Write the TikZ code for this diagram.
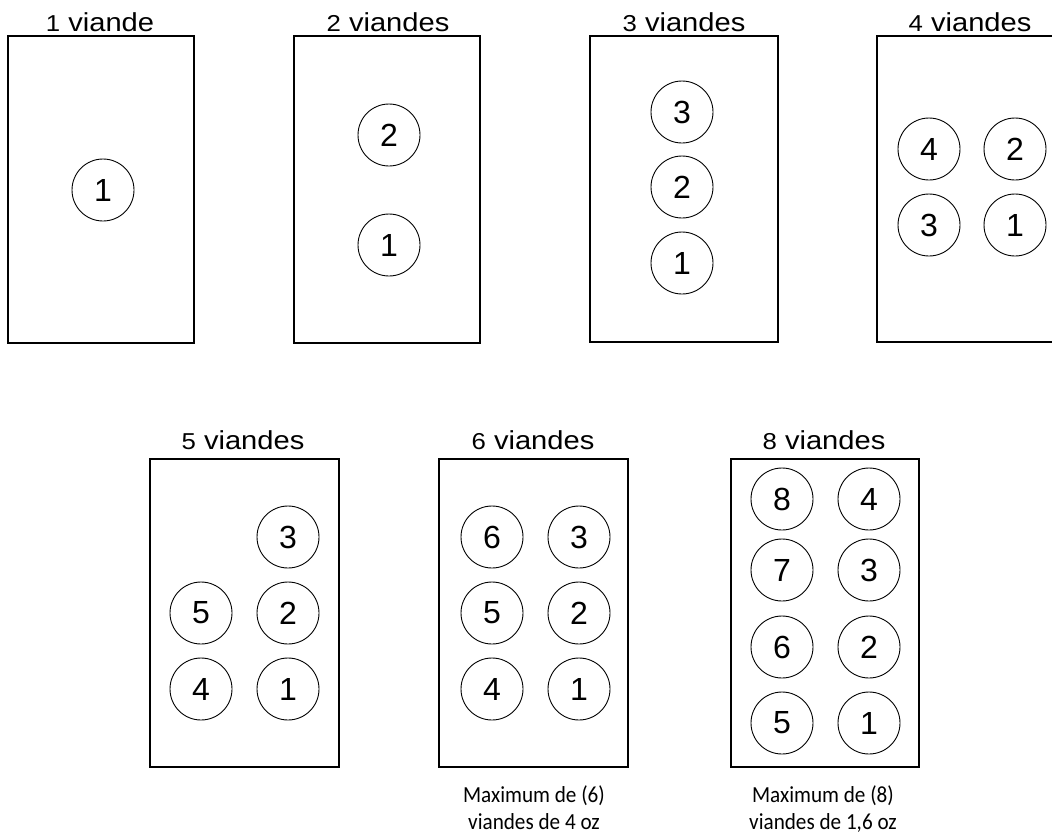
\documentclass[tikz,border=0pt]{standalone}
\usepackage{fontspec}
\setmainfont{Liberation Sans}
\newfontfamily\titlefont[FakeStretch=1.12]{Liberation Sans}
\newfontfamily\numfont{Liberation Sans}
\newfontfamily\capfont[FakeStretch=0.92]{Carlito}
\tikzset{
  tray/.style={draw, line width=1.8pt, inner sep=0pt},
  meat/.style={circle, draw, line width=0.9pt, minimum size=62pt, inner sep=0pt,
    font=\numfont\fontsize{32}{32}\selectfont},
  ttl/.style={anchor=base, inner sep=0pt, font=\titlefont\fontsize{26}{26}\selectfont},
  captxt/.style={anchor=base, inner sep=0pt, font=\capfont\fontsize{23}{23}\selectfont}
}
\newcommand{\tdig}[1]{{\titlefont\fontsize{23}{23}\selectfont #1}}
\begin{document}
\begin{tikzpicture}[x=1pt,y=-1pt]
\useasboundingbox (0,0) rectangle (1052,833);
\clip (0,0) rectangle (1052,833);
% boxes
\draw[tray] (8,36) rectangle (194,343) coordinate (b1);
\draw[tray] (294,36) rectangle (480,343) coordinate (b2);
\draw[tray] (590,36) rectangle (778,342) coordinate (b3);
\draw[tray] (877,36) rectangle (1064,342) coordinate (b4);
\draw[tray] (150,459) rectangle (339,767) coordinate (b5);
\draw[tray] (439,459) rectangle (628,767) coordinate (b6);
\draw[tray] (731,459) rectangle (919,767) coordinate (b8);
% titles
\node[ttl] (t1) at (100,31) {\tdig{1} viande};
\node[ttl] (t2) at (388,31) {\tdig{2} viandes};
\node[ttl] (t3) at (684,31) {\tdig{3} viandes};
\node[ttl] (t4) at (970,31) {\tdig{4} viandes};
\node[ttl] (t5) at (243,449) {\tdig{5} viandes};
\node[ttl] (t6) at (533,449) {\tdig{6} viandes};
\node[ttl] (t8) at (824,449) {\tdig{8} viandes};
% box 1
\node[meat] (a1) at (103,190) {1};
% box 2
\node[meat] (b2c2) at (389,135) {2};
\node[meat] (b2c1) at (389,245) {1};
% box 3
\node[meat] (c3) at (682,112) {3};
\node[meat] (c2) at (682,187) {2};
\node[meat] (c1) at (682,263) {1};
% box 4
\node[meat] (d4) at (929,149) {4};
\node[meat] (d2) at (1015,149) {2};
\node[meat] (d3) at (929,225) {3};
\node[meat] (d1) at (1015,225) {1};
% box 5
\node[meat] (e3) at (288,537) {3};
\node[meat] (e5) at (201,613) {5};
\node[meat] (e2) at (288,613) {2};
\node[meat] (e4) at (201,689) {4};
\node[meat] (e1) at (288,689) {1};
% box 6
\node[meat] (f6) at (492,537) {6};
\node[meat] (f3) at (579,537) {3};
\node[meat] (f5) at (492,613) {5};
\node[meat] (f2) at (579,613) {2};
\node[meat] (f4) at (492,689) {4};
\node[meat] (f1) at (579,689) {1};
% box 8
\node[meat] (g8) at (782,499) {8};
\node[meat] (g4) at (869,499) {4};
\node[meat] (g7) at (782,570) {7};
\node[meat] (g3) at (869,570) {3};
\node[meat] (g6) at (782,647) {6};
\node[meat] (g2) at (869,647) {2};
\node[meat] (g5) at (782,723) {5};
\node[meat] (g1) at (869,723) {1};
% captions
\node[captxt] (k6a) at (534,802) {Maximum de (6)};
\node[captxt] (k6b) at (534,829) {viandes de 4 oz};
\node[captxt] (k8a) at (823,802) {Maximum de (8)};
\node[captxt] (k8b) at (823,829) {viandes de 1,6 oz};
\end{tikzpicture}
\end{document}
